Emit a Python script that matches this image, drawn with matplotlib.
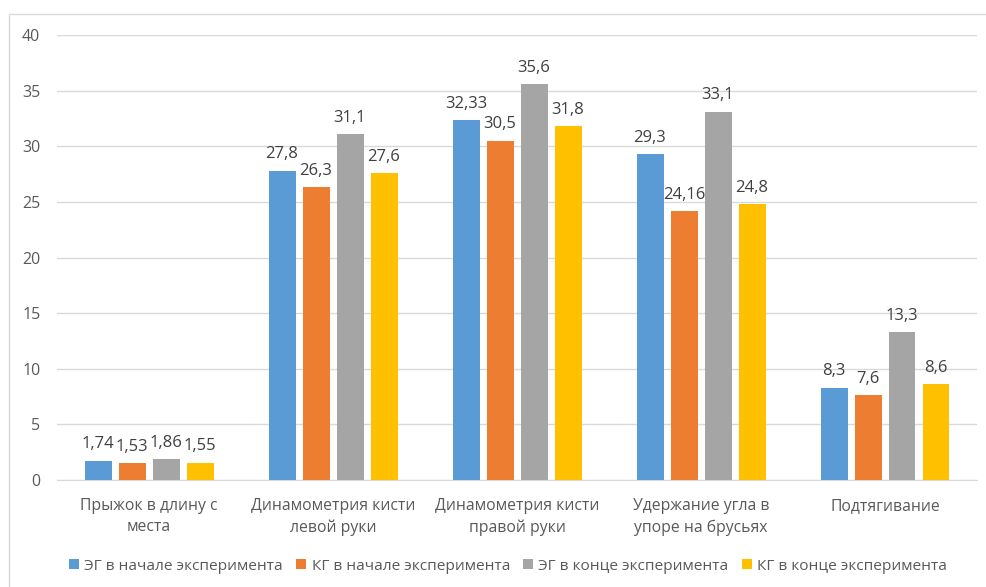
import matplotlib
matplotlib.use("Agg")
import matplotlib.pyplot as plt
import numpy as np
from matplotlib.patches import Rectangle

plt.rcParams['font.family'] = ['Open Sans', 'DejaVu Sans']

categories = ["Прыжок в длину с\nместа", "Динамометрия кисти\nлевой руки",
              "Динамометрия кисти\nправой руки", "Удержание угла в\nупоре на брусьях",
              "Подтягивание"]
series_names = ["ЭГ в начале эксперимента", "КГ в начале эксперимента",
                "ЭГ в конце эксперимента", "КГ в конце эксперимента"]
eg_start = [1.74, 27.8, 32.33, 29.3, 8.3]
kg_start = [1.53, 26.3, 30.5, 24.16, 7.6]
eg_end = [1.86, 31.1, 35.6, 33.1, 13.3]
kg_end = [1.55, 27.6, 31.8, 24.8, 8.6]
series = [eg_start, kg_start, eg_end, kg_end]
colors = ["#5B9BD5", "#ED7D31", "#A5A5A5", "#FFC000"]
yticks = [0, 5, 10, 15, 20, 25, 30, 35, 40]

W, H = 986, 587
fig = plt.figure(figsize=(W / 100, H / 100), dpi=100)
ax = fig.add_axes([57 / W, 1 - 480 / H, 920 / W, 445 / H])

x = np.arange(len(categories))
step = 34 / 184
bw = 27 / 184
txt = "#595959"
for i, (vals, c, name) in enumerate(zip(series, colors, series_names)):
    pos = x + (i - 1.5) * step
    bars = ax.bar(pos, vals, width=bw, color=c, label=name, zorder=3)
    labels = [f"{v:g}".replace(".", ",") for v in vals]
    ax.bar_label(bars, labels=labels, padding=6, fontsize=12, color="#404040")

ax.set_xlim(-0.5, len(categories) - 0.5)
ax.set_ylim(0, 40)
ax.set_yticks(yticks)
ax.set_xticks(x)
ax.set_xticklabels(categories, fontsize=11.3, color=txt, linespacing=1.45)
ax.tick_params(axis='both', length=0, colors=txt)
ax.tick_params(axis='y', labelsize=11.5, pad=12)
ax.tick_params(axis='x', pad=13)
ax.grid(axis='y', color="#D9D9D9", linewidth=1, zorder=0)
for s in ["top", "right", "left"]:
    ax.spines[s].set_visible(False)
ax.spines["bottom"].set_color("#D9D9D9")

leg = fig.legend(loc="center", bbox_to_anchor=(508 / W, 1 - 566 / H), ncol=4, frameon=False,
                 fontsize=11.1, handlelength=0.65, handleheight=0.65, handletextpad=0.35,
                 columnspacing=0.85, labelcolor=txt)

fig.patches.append(Rectangle((9 / W, -0.1), 1.2, 1 - 14 / H + 0.1, transform=fig.transFigure,
                             fill=False, edgecolor="#D9D9D9", linewidth=1))

fig.savefig("out.png", dpi=100)
